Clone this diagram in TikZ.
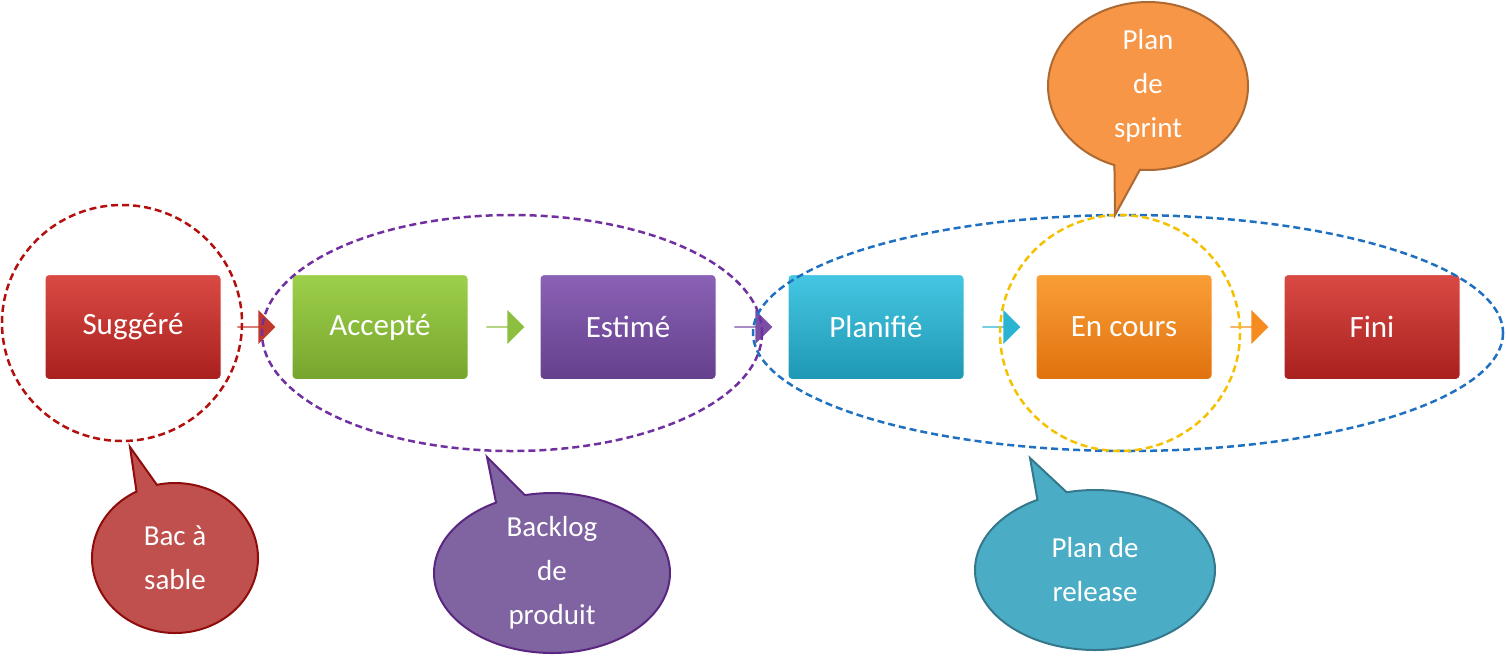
\documentclass[tikz,border=0pt]{standalone}
\usepackage{fontspec}
\setmainfont{Carlito}
\usetikzlibrary{shapes.arrows,shapes.callouts,shapes.geometric}
\definecolor{cRed}{HTML}{C0392E}\definecolor{cRedT}{HTML}{DA4A44}\definecolor{cRedB}{HTML}{A8201E}
\definecolor{cGrn}{HTML}{8CBF3F}\definecolor{cGrnT}{HTML}{9DD04A}\definecolor{cGrnB}{HTML}{76A52E}
\definecolor{cPur}{HTML}{7A4FA6}\definecolor{cPurT}{HTML}{8A62B6}\definecolor{cPurB}{HTML}{64408C}
\definecolor{cCya}{HTML}{2BB4D2}\definecolor{cCyaT}{HTML}{45C6E2}\definecolor{cCyaB}{HTML}{1E98B4}
\definecolor{cOra}{HTML}{F68B1F}\definecolor{cOraT}{HTML}{FA9E36}\definecolor{cOraB}{HTML}{E0720E}
\definecolor{dRed}{HTML}{B30F0F}\definecolor{dPur}{HTML}{7030A0}\definecolor{dBlu}{HTML}{1F70C0}\definecolor{dYel}{HTML}{F5C000}
\definecolor{kRed}{HTML}{C0504D}\definecolor{kPur}{HTML}{8064A2}\definecolor{kCya}{HTML}{4BACC6}\definecolor{kOra}{HTML}{F79646}
\tikzset{
 box/.style args={#1/#2}{rectangle,rounded corners=4pt,minimum width=176pt,minimum height=105pt,
   top color=#1,bottom color=#2,draw=white,line width=1pt,text=white,font=\fontsize{31}{36}\selectfont},
 arr/.style={single arrow,single arrow head extend=5pt,minimum height=38pt,minimum width=34pt,inner sep=0pt,draw=none,fill=#1},
 zone/.style={draw=#1,dashed,line width=2.5pt,dash pattern=on 7pt off 4pt},
 call/.style args={#1/#2}{ellipse callout,fill=#1,draw=#2,line width=2pt,text=white,align=center,
   font=\fontsize{29}{44}\selectfont,inner sep=0pt},
}
\begin{document}
\begin{tikzpicture}[x=1pt,y=-1pt]
\useasboundingbox (0,0) rectangle (1506,656);
\node[box=cRedT/cRedB] (s) at (133,327) {Suggéré};
\node[box=cGrnT/cGrnB] (a) at (380,327) {Accepté};
\node[box=cPurT/cPurB] (e) at (628,327) {Estimé};
\node[box=cCyaT/cCyaB] (p) at (876,327) {Planifié};
\node[box=cOraT/cOraB] (c) at (1124,327) {En cours};
\node[box=cRedT/cRedB] (f) at (1372,327) {Fini};
\node[arr=cRed] (a1) at (256,327) {};
\node[arr=cGrn] (a2) at (505,327) {};
\node[arr=cPur] (a3) at (753,327) {};
\node[arr=cCya] (a4) at (1001,327) {};
\node[arr=cOra] (a5) at (1249,327) {};
\draw[zone=dRed] (122,323) ellipse [x radius=120,y radius=118];
\draw[zone=dPur] (512,333) ellipse [x radius=250,y radius=118];
\draw[zone=dBlu] (1128,333) ellipse [x radius=375,y radius=118];
\draw[zone=dYel] (1120,333) ellipse [x radius=120,y radius=118];
\node[call=kRed/dRed!80!black,minimum width=166pt,minimum height=150pt,callout absolute pointer={(130,447)}] (k1) at (175,558) {Bac à\\sable};
\node[call=kPur/dPur!80!black,minimum width=236pt,minimum height=160pt,callout absolute pointer={(487,457)}] (k2) at (552,573) {Backlog\\de\\produit};
\node[call=kCya/kCya!70!black,minimum width=240pt,minimum height=160pt,callout absolute pointer={(1030,458)}] (k3) at (1095,570) {Plan de\\release};
\node[call=kOra/kOra!70!black,minimum width=200pt,minimum height=168pt,callout absolute pointer={(1115,215)}] (k4) at (1148,86) {Plan\\de\\sprint};
\end{tikzpicture}
\end{document}
